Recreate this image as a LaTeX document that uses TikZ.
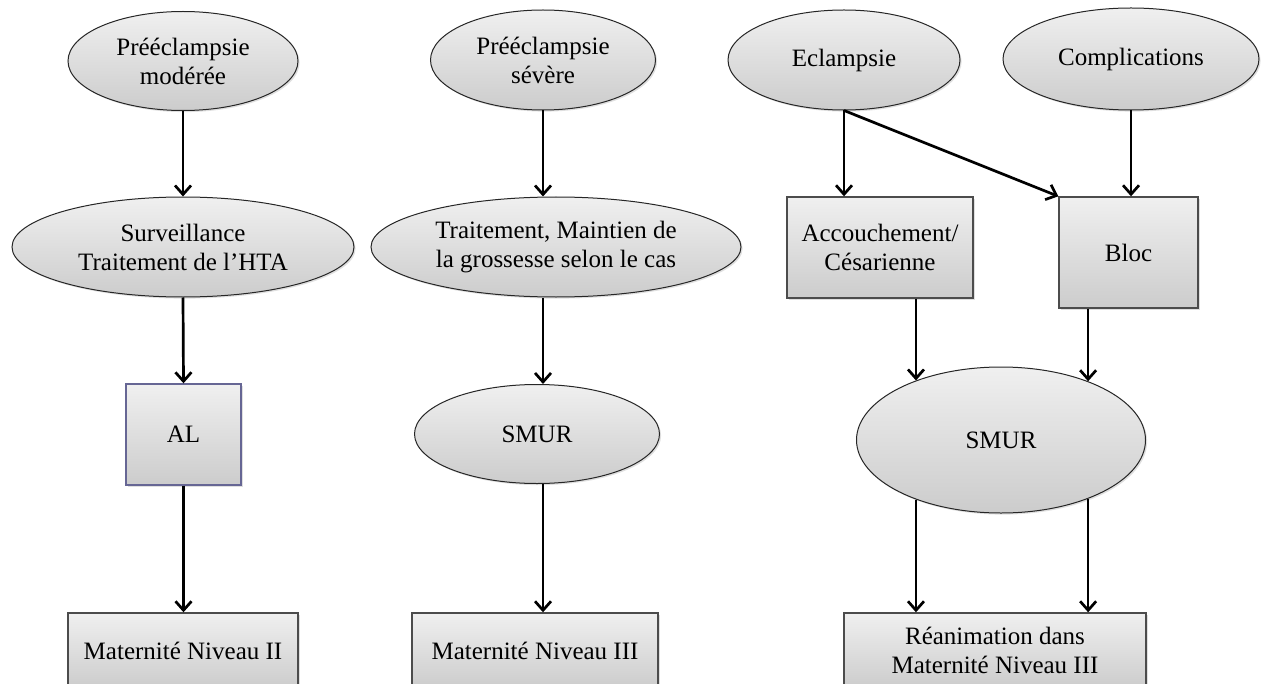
\documentclass[tikz,border=0pt]{standalone}
\usepackage{fontspec}
\setmainfont{Liberation Serif}
\usetikzlibrary{shapes.geometric,arrows.meta,shadows}
\begin{document}
\begin{tikzpicture}[x=0.5pt,y=-0.5pt,
  base/.style={font=\fontsize{12.5}{14.5}\selectfont, align=center, inner sep=0pt,
    top color=white!94!black, bottom color=white!80!black,
    drop shadow={shadow xshift=0.8pt, shadow yshift=-0.8pt, opacity=0.25}},
  ell/.style={base, ellipse, draw=black!85, line width=0.5pt},
  box/.style={base, rectangle, draw=black!70, line width=0.7pt},
  albox/.style={box, draw=blue!30!black!60},
  arr/.style={-{Straight Barb[length=4.5pt,width=8pt]}, line width=1.35pt, black}
]
\clip (0,0) rectangle (1267,684);
\fill[white] (0,0) rectangle (1267,684);

% column 1
\node[ell, minimum width=115pt, minimum height=49.5pt] (a1) at (183,61) {Prééclampsie\\modérée};
\node[ell, minimum width=171pt, minimum height=50pt] (a2) at (183,247) {Surveillance\\Traitement de l’HTA};
\node[albox, minimum width=57.5pt, minimum height=50.5pt] (a3) at (183.5,434.5) {AL};
\node[box, minimum width=115pt, minimum height=37.5pt] (a4) at (183,650.5) {Maternité Niveau II};

% column 2
\node[ell, minimum width=112.5pt, minimum height=50pt] (b1) at (543,60) {Prééclampsie\\sévère};
\node[ell, minimum width=185pt, minimum height=50pt] (b2) at (556,247) {Traitement, Maintien de\\la grossesse selon le cas};
\node[ell, minimum width=122.5pt, minimum height=49.5pt] (b3) at (537,434) {SMUR};
\node[box, minimum width=123pt, minimum height=37.5pt] (b4) at (535,650.5) {Maternité Niveau III};

% column 3
\node[ell, minimum width=116pt, minimum height=50pt] (c1) at (844,60) {Eclampsie};
\node[ell, minimum width=128pt, minimum height=51pt] (c2) at (1131,59) {Complications};
\node[box, minimum width=93pt, minimum height=50.5pt] (c3) at (880,247.5) {Accouchement/\\Césarienne};
\node[box, minimum width=69.5pt, minimum height=55.5pt] (c4) at (1128.5,252.5) {Bloc};
\node[ell, minimum width=144.5pt, minimum height=73pt] (c5) at (1001,440) {SMUR};
\node[box, minimum width=151pt, minimum height=37.5pt] (c6) at (995,650.5) {Réanimation dans\\Maternité Niveau III};

% connectors
\draw[arr] (a1.south) -- (a2.north);
\draw[arr] (a2.south) -- (a3.south |- a3.north);
\draw[arr] (a3.south) -- (a3.south |- a4.north);

\draw[arr] (b1.south) -- (b1.south |- b2.north);
\draw[arr] (b2.south -| b1.south) -- (b1.south |- b3.north);
\draw[arr] (b3.south -| b1.south) -- (b4.north -| b1.south);

\draw[arr] (c1.south) -- (c1.south |- c3.north);
\draw[arr] (c1.south) -- (c4.north west);
\draw[arr] (c2.south) -- (c2.south |- c4.north);
\draw[arr] (c3.south -| c5.145) -- (c5.145);
\draw[arr] (c4.south -| c5.34) -- (c5.34);
\draw[arr] (c5.-145) -- (c5.-145 |- c6.north);
\draw[arr] (c5.-34) -- (c5.-34 |- c6.north);
\end{tikzpicture}
\end{document}
